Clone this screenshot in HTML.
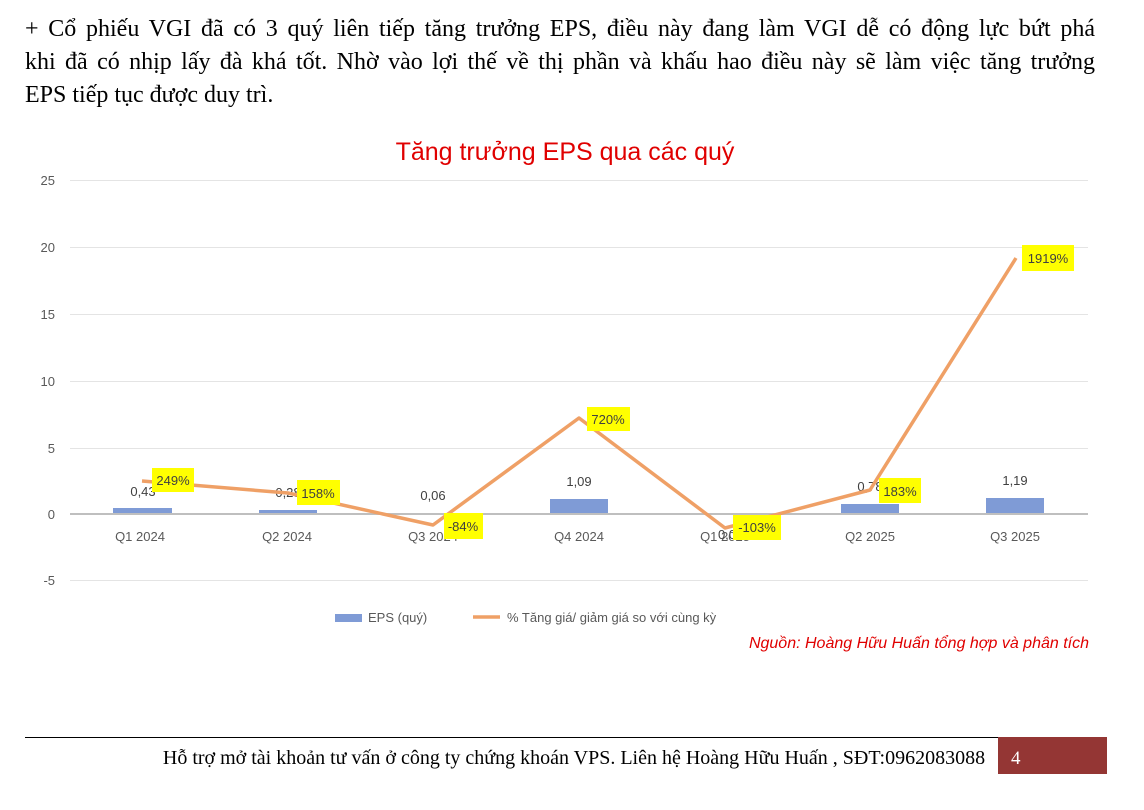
<!DOCTYPE html><html><head><meta charset="utf-8"><style>
body{margin:0;width:1144px;height:810px;background:#fff;overflow:hidden;font-family:"Liberation Serif",serif}
.p{position:absolute;left:25px;width:1070px;font-size:24px;color:#000;line-height:33px;top:13px}
.j{display:block;text-align:justify;text-align-last:justify;white-space:nowrap}
</style></head><body>
<div class="p"><span class="j">+ Cổ phiếu VGI đã có 3 quý liên tiếp tăng trưởng EPS, điều này đang làm VGI dễ có động lực bứt phá</span><span class="j">khi đã có nhịp lấy đà khá tốt. Nhờ vào lợi thế về thị phần và khấu hao điều này sẽ làm việc tăng trưởng</span><span style="display:block">EPS tiếp tục được duy trì.</span></div>
<svg width="1144" height="810" style="position:absolute;left:0;top:0" font-family="Liberation Sans, sans-serif">
<text x="565" y="160" fill="#e00000" font-size="25" text-anchor="middle">Tăng trưởng EPS qua các quý</text>
<g stroke="#e4e4e4" stroke-width="1">
<line x1="70" x2="1088" y1="180.5" y2="180.5"/><line x1="70" x2="1088" y1="247.5" y2="247.5"/><line x1="70" x2="1088" y1="314.5" y2="314.5"/><line x1="70" x2="1088" y1="381.5" y2="381.5"/><line x1="70" x2="1088" y1="448.5" y2="448.5"/><line x1="70" x2="1088" y1="580.5" y2="580.5"/></g>
<g font-size="13" fill="#595959" text-anchor="end">
<text x="55" y="185">25</text><text x="55" y="252">20</text><text x="55" y="319">15</text><text x="55" y="386">10</text><text x="55" y="453">5</text><text x="55" y="519">0</text><text x="55" y="585">-5</text></g>
<g fill="#7f9bd6">
<rect x="113" y="508" width="59" height="6"/><rect x="259" y="510" width="58" height="4"/><rect x="433" y="513" width="58" height="1"/><rect x="550" y="499" width="58" height="15"/><rect x="841" y="504" width="58" height="10"/><rect x="986" y="498" width="58" height="16"/></g>
<line x1="70" x2="1088" y1="514" y2="514" stroke="#bfbfbf" stroke-width="2"/>
<g font-size="13" fill="#404040" text-anchor="middle">
<text x="143" y="496">0,43</text><text x="288" y="497">0,28</text><text x="433" y="500">0,06</text><text x="579" y="486">1,09</text><text x="870" y="491">0,78</text><text x="1015" y="485">1,19</text><text x="727" y="539">0,0</text></g>
<g font-size="13" fill="#595959" text-anchor="middle">
<text x="140" y="541">Q1 2024</text><text x="287" y="541">Q2 2024</text><text x="433" y="541">Q3 2024</text><text x="579" y="541">Q4 2024</text><text x="725" y="541">Q1 2025</text><text x="870" y="541">Q2 2025</text><text x="1015" y="541">Q3 2025</text></g>
<polyline points="142,481 288,493 433,525 579,418 725,528 870,490 1016,258" fill="none" stroke="#efa066" stroke-width="3.5" stroke-linejoin="round"/>
<g fill="#ffff00">
<rect x="152" y="468" width="42" height="24"/><rect x="297" y="480" width="43" height="25"/><rect x="444" y="513" width="39" height="26"/><rect x="587" y="407" width="43" height="24"/><rect x="733" y="515" width="48" height="25"/><rect x="879" y="478" width="42" height="25"/><rect x="1022" y="245" width="52" height="26"/></g>
<g font-size="13" fill="#404040" text-anchor="middle">
<text x="173" y="485">249%</text><text x="318" y="498">158%</text><text x="463" y="531">-84%</text><text x="608" y="424">720%</text><text x="757" y="532">-103%</text><text x="900" y="496">183%</text><text x="1048" y="263">1919%</text></g>
<rect x="335" y="614" width="27" height="8" fill="#7f9bd6"/>
<text x="368" y="622" font-size="13" fill="#595959">EPS (quý)</text>
<line x1="473" x2="500" y1="617" y2="617" stroke="#efa066" stroke-width="3.5"/>
<text x="507" y="622" font-size="13" fill="#595959">% Tăng giá/ giảm giá so với cùng kỳ</text>
<text x="1089" y="648" font-size="16" fill="#e00000" font-style="italic" text-anchor="end">Nguồn: Hoàng Hữu Huấn tổng hợp và phân tích</text>
<line x1="25" x2="1107" y1="737.5" y2="737.5" stroke="#000" stroke-width="1"/>
<rect x="998" y="737" width="109" height="37" fill="#943634"/>
<text x="1011" y="764" font-size="19" fill="#fff" font-family="Liberation Serif, serif">4</text>
<text x="574" y="764" font-size="20" fill="#000" font-family="Liberation Serif, serif" text-anchor="middle">Hỗ trợ mở tài khoản tư vấn ở công ty chứng khoán VPS. Liên hệ  Hoàng Hữu Huấn , SĐT:0962083088</text>
</svg>
</body></html>
